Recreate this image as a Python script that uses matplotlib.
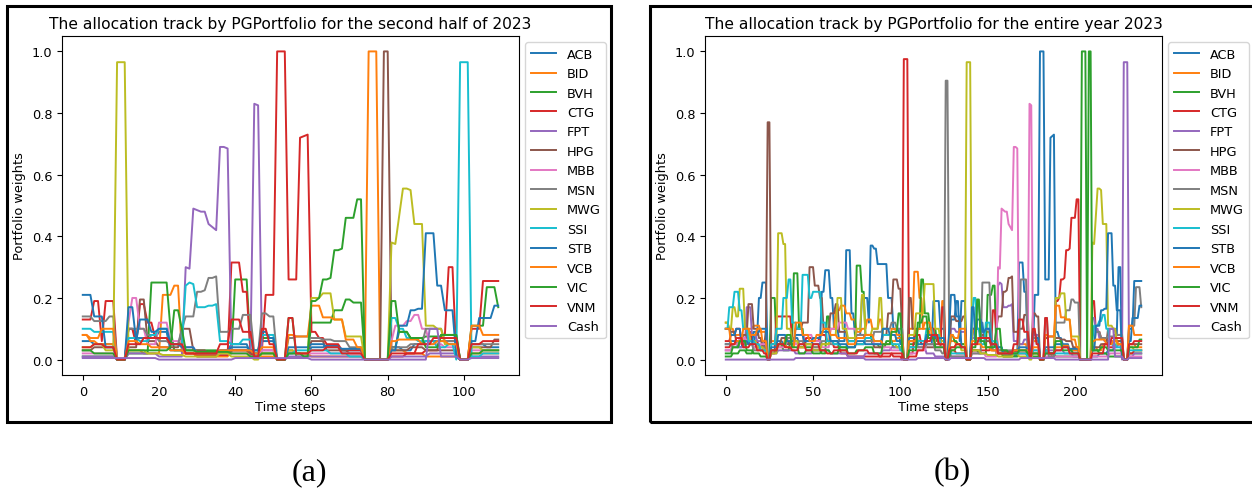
import matplotlib
matplotlib.use("Agg")
import matplotlib.pyplot as plt
from matplotlib.patches import Rectangle

names = ['ACB', 'BID', 'BVH', 'CTG', 'FPT', 'HPG', 'MBB', 'MSN', 'MWG',
         'SSI', 'STB', 'VCB', 'VIC', 'VNM', 'Cash']

# weights, as (first time step, value) runs
# --- (a) second half of 2023, 110 steps ---
n_a = 110
acb_a = [(0, 0.06), (3, 0.05), (9, 0.0), (12, 0.1), (14, 0.07), (20, 0.09), (23, 0.03), (27, 0.02), (30, 0.01),
         (36, 0.03), (39, 0.05), (44, 0.02), (47, 0.06), (51, 0.0), (54, 0.03), (56, 0.02), (60, 0.04), (64, 0.045),
         (68, 0.03), (74, 0.0), (81, 0.04), (84, 0.03), (87, 0.05), (90, 0.06), (99, 0.0), (102, 0.05), (106, 0.04)]
bid_a = [(0, 0.08), (2, 0.06), (4, 0.05), (9, 0.0), (12, 0.03), (16, 0.02), (21, 0.21), (24, 0.24), (26, 0.02),
         (30, 0.01), (39, 0.03), (44, 0.01), (51, 0.0), (54, 0.03), (56, 0.02), (60, 0.01), (74, 0.0), (75, 1.0),
         (78, 0.0), (81, 0.03), (85, 0.02), (90, 0.01), (99, 0.0), (102, 0.02)]
bvh_a = [(0, 0.01), (9, 0.0), (12, 0.02), (18, 0.25), (23, 0.1), (24, 0.03), (36, 0.02), (40, 0.26), (44, 0.03),
         (47, 0.07), (51, 0.0), (54, 0.135), (56, 0.01), (60, 0.12), (66, 0.16), (69, 0.195), (71, 0.185), (74, 0.0),
         (81, 0.04), (83, 0.09), (86, 0.07), (90, 0.075), (95, 0.08), (99, 0.0), (102, 0.11), (106, 0.235), (109, 0.17)]
ctg_a = [(0, 0.13), (3, 0.19), (5, 0.06), (6, 0.19), (9, 0.0), (12, 0.1), (14, 0.05), (15, 0.18), (17, 0.12),
         (19, 0.07), (23, 0.05), (27, 0.02), (30, 0.015), (39, 0.315), (42, 0.22), (44, 0.02), (45, 0.01),
         (47, 0.03), (48, 0.21), (51, 1.0), (54, 0.26), (57, 0.72), (58, 0.725), (59, 0.73), (60, 0.09), (62, 0.07),
         (64, 0.05), (68, 0.03), (74, 0.0), (81, 0.01), (85, 0.02), (90, 0.03), (94, 0.08), (96, 0.3), (98, 0.01),
         (99, 0.0), (102, 0.1), (105, 0.255)]
fpt_a = [(0, 0.01), (9, 0.0), (12, 0.02), (20, 0.01), (27, 0.3), (28, 0.295), (29, 0.49), (30, 0.485), (31, 0.48),
         (33, 0.44), (34, 0.43), (35, 0.42), (36, 0.69), (38, 0.685), (39, 0.03), (45, 0.83), (46, 0.825),
         (47, 0.03), (51, 0.0), (54, 0.01), (74, 0.0), (81, 0.01), (91, 0.02), (99, 0.0), (102, 0.01)]
hpg_a = [(0, 0.03), (3, 0.04), (9, 0.0), (12, 0.04), (15, 0.195), (17, 0.06), (20, 0.04), (26, 0.1), (29, 0.03),
         (33, 0.02), (39, 0.03), (44, 0.02), (51, 0.0), (54, 0.02), (60, 0.06), (64, 0.03), (70, 0.02), (74, 0.0),
         (79, 1.0), (81, 0.03), (86, 0.04), (90, 0.03), (99, 0.0), (102, 0.04), (108, 0.065)]
mbb_a = [(0, 0.02), (9, 0.0), (12, 0.12), (13, 0.2), (15, 0.1), (17, 0.05), (20, 0.12), (23, 0.06), (27, 0.04),
         (30, 0.02), (44, 0.01), (47, 0.03), (51, 0.0), (54, 0.03), (56, 0.02), (74, 0.0), (81, 0.06), (82, 0.11),
         (85, 0.125), (87, 0.145), (89, 0.1), (91, 0.05), (95, 0.04), (99, 0.0), (102, 0.03)]
msn_a = [(0, 0.14), (3, 0.125), (7, 0.14), (9, 0.0), (12, 0.1), (17, 0.08), (20, 0.06), (23, 0.05), (26, 0.1),
         (27, 0.14), (30, 0.22), (32, 0.225), (33, 0.265), (35, 0.27), (36, 0.09), (39, 0.1), (42, 0.145),
         (45, 0.02), (47, 0.15), (49, 0.14), (51, 0.0), (54, 0.07), (56, 0.075), (60, 0.07), (63, 0.065), (66, 0.06),
         (70, 0.04), (74, 0.0), (81, 0.04), (86, 0.05), (90, 0.1), (95, 0.06), (99, 0.0), (102, 0.05)]
mwg_a = [(0, 0.04), (3, 0.05), (6, 0.03), (9, 0.965), (12, 0.03), (17, 0.02), (21, 0.015), (27, 0.01), (36, 0.02),
         (39, 0.01), (45, 0.0), (47, 0.02), (51, 0.0), (54, 0.03), (56, 0.02), (60, 0.2), (63, 0.215), (66, 0.13),
         (69, 0.075), (74, 0.0), (81, 0.38), (82, 0.375), (83, 0.465), (84, 0.555), (86, 0.55), (87, 0.44),
         (90, 0.11), (93, 0.1), (95, 0.05), (99, 0.0), (102, 0.04), (105, 0.03)]
ssi_a = [(0, 0.1), (3, 0.09), (9, 0.0), (12, 0.07), (15, 0.06), (18, 0.08), (20, 0.1), (23, 0.05), (27, 0.24),
         (28, 0.25), (29, 0.245), (30, 0.17), (33, 0.175), (35, 0.18), (36, 0.06), (39, 0.05), (42, 0.065),
         (45, 0.02), (47, 0.08), (51, 0.0), (54, 0.02), (56, 0.03), (65, 0.02), (70, 0.01), (74, 0.0), (81, 0.135),
         (83, 0.1), (85, 0.07), (88, 0.06), (93, 0.04), (96, 0.05), (98, 0.0), (99, 0.965), (102, 0.01),
         (105, 0.02)]
stb_a = [(0, 0.21), (3, 0.14), (6, 0.04), (9, 0.0), (12, 0.17), (14, 0.06), (15, 0.13), (18, 0.09), (20, 0.1),
         (23, 0.05), (26, 0.04), (30, 0.02), (36, 0.03), (39, 0.04), (44, 0.03), (47, 0.09), (49, 0.07), (51, 0.0),
         (54, 0.04), (60, 0.05), (64, 0.04), (68, 0.035), (74, 0.0), (81, 0.03), (83, 0.11), (86, 0.16),
         (88, 0.165), (90, 0.41), (93, 0.24), (95, 0.16), (98, 0.01), (99, 0.0), (102, 0.06), (104, 0.135),
         (108, 0.175)]
vcb_a = [(0, 0.08), (2, 0.07), (5, 0.1), (9, 0.0), (12, 0.06), (15, 0.05), (18, 0.04), (23, 0.03), (27, 0.02),
         (36, 0.03), (45, 0.02), (47, 0.04), (51, 0.0), (54, 0.08), (56, 0.075), (60, 0.175), (63, 0.137),
         (66, 0.13), (69, 0.065), (72, 0.04), (74, 0.0), (81, 0.06), (83, 0.065), (89, 0.05), (93, 0.06),
         (96, 0.05), (99, 0.0), (102, 0.11), (105, 0.08)]
vic_a = [(0, 0.03), (3, 0.02), (9, 0.0), (12, 0.03), (23, 0.04), (24, 0.16), (26, 0.1), (27, 0.03), (30, 0.025),
         (39, 0.02), (44, 0.01), (47, 0.02), (51, 0.0), (54, 0.02), (58, 0.01), (60, 0.19), (62, 0.2), (63, 0.26),
         (65, 0.265), (66, 0.355), (68, 0.36), (69, 0.46), (72, 0.52), (74, 0.0), (81, 0.19), (83, 0.09),
         (86, 0.07), (90, 0.04), (94, 0.08), (99, 0.0), (102, 0.02), (105, 0.03)]
vnm_a = [(0, 0.04), (3, 0.05), (6, 0.04), (9, 0.0), (12, 0.05), (16, 0.07), (23, 0.05), (27, 0.02), (36, 0.05),
         (39, 0.13), (42, 0.09), (45, 0.01), (47, 0.1), (49, 0.05), (51, 0.0), (54, 0.135), (56, 0.02), (60, 0.03),
         (64, 0.04), (68, 0.02), (74, 0.0), (81, 0.02), (88, 0.05), (92, 0.07), (99, 0.0), (102, 0.05), (105, 0.06)]
cash_a = [(0, 0.005), (20, 0.0), (40, 0.005), (60, 0.0), (91, 0.1), (94, 0.01), (99, 0.0), (102, 0.005)]

# --- (b) entire year 2023: steps 0..128 read here, 129..238 repeat panel (a) under other labels ---
n_head = 129
acb_b = [(0, 0.05), (3, 0.06), (7, 0.04), (10, 0.06), (14, 0.05), (17, 0.08), (19, 0.2), (21, 0.25), (24, 0.0),
         (26, 0.05), (29, 0.06), (33, 0.05), (38, 0.07), (42, 0.05), (46, 0.06), (50, 0.05), (55, 0.22), (57, 0.29),
         (60, 0.2), (62, 0.1), (65, 0.06), (69, 0.355), (72, 0.15), (74, 0.08), (78, 0.2), (82, 0.12), (83, 0.37),
         (85, 0.36), (87, 0.31), (93, 0.2), (96, 0.1), (100, 0.05), (102, 0.0), (105, 0.04), (110, 0.06),
         (115, 0.05), (119, 0.19), (123, 0.1), (126, 0.0), (128, 0.05)]
bid_b = [(0, 0.12), (2, 0.1), (5, 0.08), (10, 0.06), (13, 0.1), (16, 0.11), (20, 0.09), (24, 0.0), (26, 0.06),
         (30, 0.04), (34, 0.07), (38, 0.05), (42, 0.04), (46, 0.05), (50, 0.04), (55, 0.05), (60, 0.1), (63, 0.16),
         (66, 0.175), (69, 0.15), (72, 0.13), (75, 0.09), (78, 0.1), (81, 0.13), (84, 0.1), (88, 0.13), (90, 0.08),
         (95, 0.06), (98, 0.07), (102, 0.0), (105, 0.1), (108, 0.285), (111, 0.2), (113, 0.1), (117, 0.08),
         (121, 0.06), (124, 0.19), (126, 0.0), (128, 0.08)]
bvh_b = [(0, 0.01), (4, 0.02), (8, 0.03), (12, 0.02), (16, 0.04), (20, 0.03), (24, 0.0), (26, 0.2), (29, 0.05),
         (33, 0.03), (37, 0.06), (39, 0.28), (42, 0.1), (45, 0.04), (50, 0.03), (55, 0.02), (58, 0.14), (60, 0.06),
         (65, 0.03), (70, 0.04), (75, 0.305), (78, 0.22), (80, 0.08), (84, 0.05), (88, 0.04), (92, 0.06),
         (96, 0.04), (102, 0.0), (105, 0.05), (109, 0.1), (112, 0.26), (114, 0.15), (117, 0.1), (121, 0.06),
         (126, 0.0), (128, 0.02)]
ctg_b = [(0, 0.06), (3, 0.08), (6, 0.1), (9, 0.05), (12, 0.09), (15, 0.06), (19, 0.04), (24, 0.0), (26, 0.02),
         (29, 0.14), (38, 0.06), (42, 0.04), (46, 0.07), (50, 0.06), (54, 0.08), (58, 0.06), (62, 0.04), (66, 0.02),
         (70, 0.01), (90, 0.02), (96, 0.01), (101, 0.0), (102, 0.975), (105, 0.02), (108, 0.08), (112, 0.05),
         (116, 0.1), (120, 0.04), (124, 0.17), (126, 0.0), (128, 0.02)]
fpt_b = [(0, 0.03), (4, 0.05), (8, 0.04), (12, 0.17), (15, 0.08), (18, 0.06), (22, 0.03), (24, 0.0), (26, 0.02),
         (30, 0.03), (40, 0.02), (50, 0.03), (60, 0.02), (70, 0.01), (80, 0.02), (90, 0.03), (95, 0.04), (102, 0.0),
         (105, 0.06), (110, 0.04), (115, 0.02), (120, 0.01), (126, 0.0)]
hpg_b = [(0, 0.1), (3, 0.09), (6, 0.06), (10, 0.08), (13, 0.18), (16, 0.1), (19, 0.07), (21, 0.04), (23, 0.1),
         (24, 0.77), (26, 0.05), (32, 0.07), (36, 0.05), (40, 0.1), (44, 0.12), (48, 0.3), (51, 0.24), (54, 0.2),
         (56, 0.1), (60, 0.15), (63, 0.18), (65, 0.09), (70, 0.06), (75, 0.05), (80, 0.07), (85, 0.04), (90, 0.08),
         (93, 0.15), (96, 0.26), (99, 0.23), (101, 0.1), (102, 0.0), (105, 0.2), (107, 0.1), (110, 0.06),
         (115, 0.04), (120, 0.05), (126, 0.0), (128, 0.03)]
mbb_b = [(0, 0.03), (4, 0.05), (8, 0.07), (12, 0.06), (16, 0.04), (20, 0.05), (24, 0.0), (26, 0.03), (30, 0.04),
         (35, 0.06), (40, 0.05), (45, 0.08), (50, 0.06), (55, 0.04), (60, 0.1), (65, 0.12), (70, 0.1), (75, 0.08),
         (80, 0.06), (85, 0.05), (90, 0.04), (95, 0.03), (102, 0.0), (105, 0.02), (110, 0.03), (115, 0.05),
         (120, 0.04), (126, 0.0), (128, 0.02)]
msn_b = [(0, 0.05), (4, 0.04), (8, 0.06), (12, 0.05), (16, 0.03), (20, 0.04), (24, 0.0), (26, 0.03), (30, 0.05),
         (35, 0.07), (40, 0.06), (45, 0.05), (50, 0.04), (55, 0.06), (60, 0.05), (65, 0.07), (70, 0.06), (75, 0.08),
         (80, 0.06), (85, 0.09), (90, 0.1), (95, 0.12), (98, 0.1), (102, 0.0), (105, 0.06), (110, 0.04), (115, 0.05),
         (120, 0.03), (124, 0.02), (126, 0.905), (128, 0.05)]
mwg_b = [(0, 0.12), (2, 0.1), (4, 0.17), (6, 0.14), (8, 0.23), (11, 0.1), (14, 0.06), (18, 0.04), (22, 0.03),
         (24, 0.0), (26, 0.02), (30, 0.41), (33, 0.375), (35, 0.1), (38, 0.06), (42, 0.04), (46, 0.05), (50, 0.03),
         (55, 0.05), (60, 0.08), (64, 0.2), (67, 0.1), (70, 0.07), (75, 0.1), (78, 0.21), (80, 0.08), (84, 0.1),
         (88, 0.2), (90, 0.08), (95, 0.05), (98, 0.04), (102, 0.0), (105, 0.08), (109, 0.15), (114, 0.245),
         (120, 0.1), (123, 0.06), (126, 0.0), (128, 0.04)]
ssi_b = [(0, 0.1), (2, 0.17), (5, 0.22), (8, 0.16), (10, 0.1), (13, 0.06), (17, 0.05), (20, 0.03), (24, 0.0),
         (26, 0.05), (29, 0.1), (33, 0.2), (36, 0.26), (38, 0.12), (41, 0.1), (44, 0.275), (48, 0.2), (50, 0.22),
         (55, 0.12), (58, 0.06), (62, 0.05), (66, 0.04), (70, 0.06), (75, 0.05), (80, 0.07), (85, 0.06), (90, 0.08),
         (95, 0.05), (100, 0.03), (102, 0.0), (105, 0.04), (110, 0.06), (115, 0.1), (119, 0.08), (123, 0.05),
         (126, 0.0), (128, 0.06)]
stb_b = [(0, 0.1), (3, 0.08), (6, 0.1), (9, 0.06), (13, 0.05), (16, 0.09), (20, 0.1), (24, 0.0), (26, 0.04),
         (30, 0.08), (35, 0.06), (40, 0.08), (45, 0.06), (50, 0.07), (55, 0.09), (60, 0.06), (65, 0.05), (70, 0.04),
         (75, 0.06), (80, 0.05), (90, 0.1), (94, 0.08), (98, 0.06), (102, 0.0), (105, 0.07), (110, 0.05),
         (115, 0.08), (120, 0.07), (126, 0.0), (128, 0.1)]
vcb_b = [(0, 0.1), (3, 0.05), (6, 0.06), (10, 0.1), (14, 0.08), (18, 0.1), (21, 0.06), (24, 0.0), (26, 0.03),
         (30, 0.05), (35, 0.04), (40, 0.12), (44, 0.08), (48, 0.06), (52, 0.08), (56, 0.1), (60, 0.08), (64, 0.07),
         (70, 0.05), (75, 0.07), (80, 0.08), (85, 0.06), (90, 0.05), (95, 0.1), (98, 0.08), (102, 0.0), (105, 0.06),
         (110, 0.1), (114, 0.12), (118, 0.08), (122, 0.05), (126, 0.0), (128, 0.04)]
vic_b = [(0, 0.02), (4, 0.04), (8, 0.06), (12, 0.03), (16, 0.02), (20, 0.01), (24, 0.0), (26, 0.03), (30, 0.05),
         (35, 0.08), (38, 0.04), (42, 0.02), (46, 0.03), (50, 0.02), (55, 0.03), (60, 0.02), (65, 0.04), (70, 0.02),
         (75, 0.03), (80, 0.04), (85, 0.02), (90, 0.05), (95, 0.09), (99, 0.15), (101, 0.04), (102, 0.0),
         (105, 0.03), (110, 0.12), (113, 0.14), (116, 0.07), (120, 0.04), (126, 0.0), (128, 0.01)]
vnm_b = [(0, 0.04), (3, 0.05), (6, 0.07), (10, 0.04), (14, 0.05), (18, 0.03), (22, 0.02), (24, 0.0), (26, 0.03),
         (30, 0.05), (34, 0.04), (38, 0.03), (42, 0.05), (46, 0.03), (50, 0.05), (54, 0.03), (58, 0.02), (62, 0.03),
         (70, 0.02), (76, 0.03), (82, 0.02), (88, 0.01), (95, 0.02), (102, 0.0), (105, 0.01), (110, 0.03),
         (114, 0.06), (118, 0.08), (122, 0.05), (126, 0.0), (128, 0.03)]
cash_b = [(0, 0.0), (40, 0.005), (80, 0.0), (110, 0.005), (126, 0.0)]

# which panel (a) track shows up under each label in the last 110 steps of (b)
tail_from = {'ACB': 'CTG', 'BID': 'ACB', 'BVH': 'BID', 'CTG': 'VIC', 'FPT': 'SSI', 'HPG': 'MSN', 'MBB': 'FPT',
             'MSN': 'BVH', 'MWG': 'MWG', 'SSI': 'MBB', 'STB': 'STB', 'VCB': 'VCB', 'VIC': 'HPG', 'VNM': 'VNM',
             'Cash': 'Cash'}

runs_a = [acb_a, bid_a, bvh_a, ctg_a, fpt_a, hpg_a, mbb_a, msn_a, mwg_a, ssi_a, stb_a, vcb_a, vic_a, vnm_a, cash_a]
runs_b = [acb_b, bid_b, bvh_b, ctg_b, fpt_b, hpg_b, mbb_b, msn_b, mwg_b, ssi_b, stb_b, vcb_b, vic_b, vnm_b, cash_b]


def unroll(runs, n):
    out = []
    for i, (s, v) in enumerate(runs):
        e = runs[i + 1][0] if i + 1 < len(runs) else n
        out += [v] * (e - s)
    return out


series_a = {nm: unroll(r, n_a) for nm, r in zip(names, runs_a)}
series_b = {nm: unroll(r, n_head) + series_a[tail_from[nm]] for nm, r in zip(names, runs_b)}

plt.rcParams['font.size'] = 9.3
plt.rcParams['axes.titlesize'] = 11.2

W, H = 1252, 489
fig = plt.figure(figsize=(W / 100, H / 100), dpi=100)

ax1 = fig.add_axes([62 / W, 1 - 376 / H, 457 / W, 339 / H])
ax2 = fig.add_axes([705 / W, 1 - 376 / H, 457 / W, 339 / H])

for ax, data, title in [(ax1, series_a, 'The allocation track by PGPortfolio for the second half of 2023'),
                        (ax2, series_b, 'The allocation track by PGPortfolio for the entire year 2023')]:
    for nm in names:
        ax.plot(range(len(data[nm])), data[nm], label=nm, lw=1.4)
    ax.set_title(title)
    ax.set_xlabel('Time steps', labelpad=2)
    ax.set_ylabel('Portfolio weights')
    ax.legend(loc='upper left', bbox_to_anchor=(1, 1))

# black boxes around each panel
fig.add_artist(Rectangle((7 / W, 1 - 423 / H), 604 / W, 416 / H, transform=fig.transFigure,
                         fill=False, ec='black', lw=2.2))
fig.add_artist(Rectangle((650 / W, 1 - 423 / H), 620 / W, 416 / H, transform=fig.transFigure,
                         fill=False, ec='black', lw=2.2))

fig.text(309 / W, 1 - 473 / H, '(a)', family='Liberation Serif', fontsize=23, ha='center', va='center')
fig.text(952 / W, 1 - 473 / H, '(b)', family='Liberation Serif', fontsize=23, ha='center', va='center')

fig.savefig('out.png', dpi=100)
